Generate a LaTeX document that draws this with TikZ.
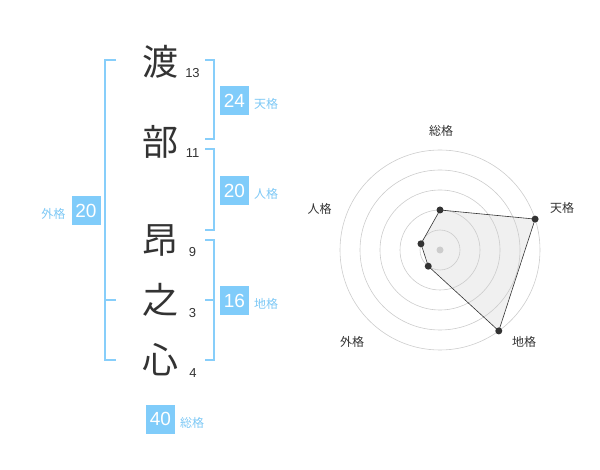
\documentclass[tikz,border=0pt]{standalone}
\usepackage{fontspec}
\setmainfont{Liberation Sans}
\newfontfamily\cjk{Noto Sans CJK JP}
\definecolor{boxblue}{RGB}{128,204,250}
\definecolor{brblue}{RGB}{135,206,250}
\definecolor{lblblue}{RGB}{125,200,245}
\definecolor{darktxt}{RGB}{51,51,51}
\definecolor{ringgray}{RGB}{204,204,204}
\definecolor{polyfill}{RGB}{240,240,240}
\begin{document}
\begin{tikzpicture}[x=1pt,y=1pt,
  kanji/.style={font=\cjk\fontsize{36}{36}\selectfont, text=darktxt, inner sep=0},
  strokes/.style={font=\fontsize{13}{13}\selectfont, text=darktxt, inner sep=0},
  valbox/.style={fill=boxblue, text=white, minimum size=29pt, inner sep=0, font=\fontsize{19}{19}\selectfont},
  kaku/.style={font=\cjk\fontsize{12}{12}\selectfont, text=lblblue, inner sep=0},
  bracket/.style={draw=brblue, line width=2pt},
  radlbl/.style={font=\cjk\fontsize{12}{12}\selectfont, text=darktxt, inner sep=0},
  ring/.style={draw=ringgray, line width=0.6pt},
  dot/.style={circle, fill=darktxt, inner sep=0, minimum size=7pt}]
\useasboundingbox (0,0) rectangle (600,-470);
% characters
\node[kanji] (c1) at (160,-62) {渡};
\node[kanji] (c2) at (160,-142) {部};
\node[kanji] (c3) at (160,-240) {昂};
\node[kanji] (c4) at (160,-300) {之};
\node[kanji] (c5) at (160,-360) {心};
\node[strokes] (s1) at (192.5,-73) {13};
\node[strokes] (s2) at (192.5,-153) {11};
\node[strokes] (s3) at (192.5,-252.5) {9};
\node[strokes] (s4) at (192.5,-313) {3};
\node[strokes] (s5) at (193,-373) {4};
% brackets
\draw[bracket] (116,-60) -- (105,-60) -- (105,-360) -- (116,-360);
\draw[bracket] (105,-300) -- (116,-300);
\draw[bracket] (205,-60) -- (214,-60) -- (214,-139.5) -- (205,-139.5);
\draw[bracket] (205,-149.5) -- (214,-149.5) -- (214,-230) -- (205,-230);
\draw[bracket] (205,-240) -- (214,-240) -- (214,-360) -- (205,-360);
\draw[bracket] (205,-300) -- (214,-300);
% value boxes
\node[valbox] (ten) at (234.5,-100.5) {24};
\node[kaku] (tenl) at (266,-104) {天格};
\node[valbox] (jin) at (234.5,-190.5) {20};
\node[kaku] (jinl) at (266,-194) {人格};
\node[valbox] (chi) at (234.5,-300.5) {16};
\node[kaku] (chil) at (266,-304) {地格};
\node[valbox] (gai) at (86,-210.5) {20};
\node[kaku] (gail) at (53.5,-214) {外格};
\node[valbox] (sou) at (160.5,-419) {40};
\node[kaku] (soul) at (192,-423) {総格};
% radar
\begin{scope}[shift={(440,-250)}]
  \fill[polyfill] (90:40) -- (18:100) -- (-54:100) -- (-126:20) -- (162:20) -- cycle;
  \foreach \r in {20,40,60,80,100} \draw[ring] (0,0) circle (\r);
  \draw[draw=darktxt, line width=0.6pt]
    (90:40) -- (18:100) -- (-54:100) -- (-126:20) -- (162:20) -- cycle;
  \node[circle, fill=ringgray, inner sep=0, minimum size=7pt] (ctr) at (0,0) {};
  \node[dot] (p1) at (90:40) {};
  \node[dot] (p2) at (18:100) {};
  \node[dot] (p3) at (-54:100) {};
  \node[dot] (p4) at (-126:20) {};
  \node[dot] (p5) at (162:20) {};
\end{scope}
\node[radlbl] (r1) at (441,-131) {総格};
\node[radlbl] (r2) at (562,-208) {天格};
\node[radlbl] (r3) at (524,-342) {地格};
\node[radlbl] (r4) at (352,-342) {外格};
\node[radlbl] (r5) at (319.5,-209) {人格};
\end{tikzpicture}
\end{document}
